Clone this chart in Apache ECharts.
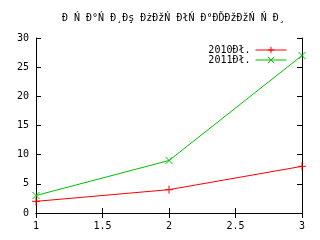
<!DOCTYPE html>
<html><head><meta charset="utf-8">
<script src="https://cdn.jsdelivr.net/npm/echarts@6/dist/echarts.min.js"></script>
<style>html,body{margin:0;padding:0;background:#fff}#c{width:320px;height:240px}</style>
</head><body><div id="c"></div>
<script>
const titleText = 'Đ Ń Đ°Ń Đ¸Đş ĐżĐžŃ ĐłŃ Đ°ĐĎĐžĐžŃ Ń Đ¸';
const xValues = [1, 2, 3];
const series2010 = [2, 4, 8];
const series2011 = [3, 9, 27];
const seriesNames = ['2010Đł.', '2011Đł.'];
const colors = ['#ff0000', '#00c000'];

const FONT = 'DejaVu Sans Mono';
const plusPath = 'path://M0,5L10,5M5,0L5,10';
const crossPath = 'path://M0,0L10,10M10,0L0,10';
const pts = v => v.map((y, i) => [xValues[i], y]);
const axisLine = { show: true, lineStyle: { color: '#000', width: 1 } };
const tick = { show: true, inside: true, length: 5, lineStyle: { color: '#000' } };

const chart = echarts.init(document.getElementById('c'), null, { renderer: 'canvas' });
chart.setOption({
  animation: false,
  backgroundColor: '#fff',
  title: {
    text: titleText, left: 57, top: 8,
    textStyle: { fontFamily: FONT, fontSize: 10, fontWeight: 'normal', color: '#000' }
  },
  grid: { left: 36, right: 18, top: 38, bottom: 27 },
  legend: {
    orient: 'vertical', right: 28, top: 40, align: 'right',
    itemWidth: 31, itemHeight: 8, itemGap: 0,
    lineStyle: { width: 1 },
    itemStyle: { borderWidth: 1 },
    textStyle: { fontFamily: FONT, fontSize: 10, lineHeight: 9, color: '#000' },
    data: seriesNames
  },
  xAxis: [
    { type: 'value', min: 1, max: 3, interval: 0.5, position: 'bottom',
      axisLine, axisTick: tick, splitLine: { show: false },
      axisLabel: { fontFamily: FONT, fontSize: 10, color: '#000', margin: 8 } },
    { type: 'value', min: 1, max: 3, interval: 0.5, position: 'top',
      axisLine, axisTick: tick, splitLine: { show: false }, axisLabel: { show: false } }
  ],
  yAxis: [
    { type: 'value', min: 0, max: 30, interval: 5, position: 'left',
      axisLine, axisTick: tick, splitLine: { show: false },
      axisLabel: { fontFamily: FONT, fontSize: 10, color: '#000', margin: 7 } },
    { type: 'value', min: 0, max: 30, interval: 5, position: 'right',
      axisLine, axisTick: tick, splitLine: { show: false }, axisLabel: { show: false } }
  ],
  series: [
    { name: seriesNames[0], type: 'line', data: pts(series2010),
      symbol: plusPath, symbolSize: 8, showSymbol: true,
      lineStyle: { color: colors[0], width: 1 },
      itemStyle: { color: colors[0], borderColor: colors[0], borderWidth: 1 } },
    { name: seriesNames[1], type: 'line', data: pts(series2011),
      symbol: crossPath, symbolSize: 7, showSymbol: true,
      lineStyle: { color: colors[1], width: 1 },
      itemStyle: { color: colors[1], borderColor: colors[1], borderWidth: 1 } }
  ]
});
</script></body></html>
